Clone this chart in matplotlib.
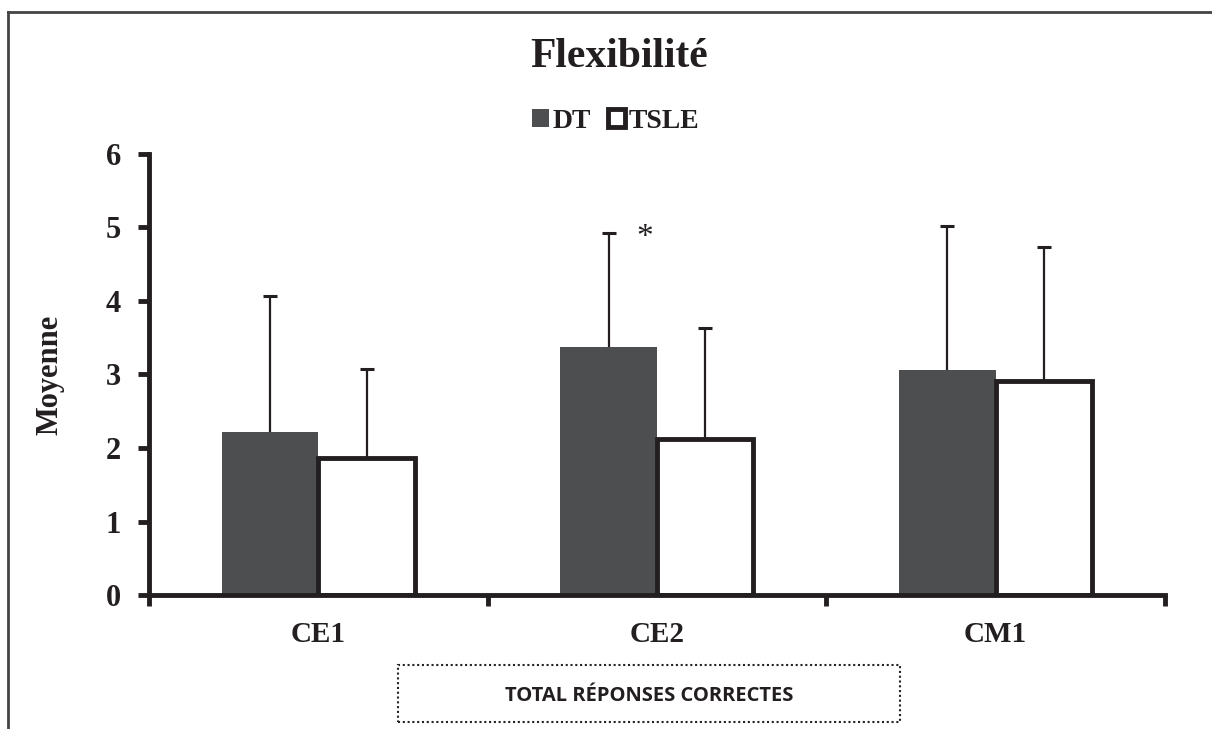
import matplotlib
matplotlib.use("Agg")
import matplotlib.pyplot as plt
import numpy as np
from matplotlib.lines import Line2D
from matplotlib.patches import Rectangle

categories = ["CE1", "CE2", "CM1"]
dt_mean = [2.22, 3.37, 3.06]
dt_sd = [1.85, 1.55, 1.96]
tsle_mean = [1.87, 2.12, 2.91]
tsle_sd = [1.21, 1.51, 1.82]
y_ticks = [0, 1, 2, 3, 4, 5, 6]

DARK = "#4d4e50"
INK = "#231f20"
SERIF = "Liberation Serif"

fig = plt.figure(figsize=(12.12, 7.29), dpi=100)
ax = fig.add_axes([0.1229, 0.1838, 0.8383, 0.605])

x = np.arange(len(categories))
w = 0.285
# error bars sit behind the bars, so only the upper half shows
ax.errorbar(x - w / 2, dt_mean, yerr=dt_sd, fmt="none", ecolor=INK,
            elinewidth=1.6, capsize=4.7, capthick=2.2, zorder=1)
ax.errorbar(x + w / 2, tsle_mean, yerr=tsle_sd, fmt="none", ecolor=INK,
            elinewidth=1.6, capsize=4.7, capthick=2.2, zorder=1)
ax.bar(x - w / 2, dt_mean, w, color=DARK, edgecolor="none", label="DT", zorder=2)
ax.bar(x + w / 2, tsle_mean, w, facecolor="white", edgecolor=INK, linewidth=3.5,
       label="TSLE", zorder=2)

ax.set_xlim(-0.5, 2.5)
ax.set_ylim(0, 6)
ax.set_yticks(y_ticks)
ax.set_xticks([-0.5, 0.5, 1.5, 2.5])
ax.set_xticklabels([])
ax.set_xticks(x, minor=True)
ax.set_xticklabels(categories, minor=True)
ax.tick_params(axis="x", which="major", direction="out", length=8, width=3.5, color=INK)
ax.tick_params(axis="x", which="minor", length=0, pad=19, labelsize=21)
ax.tick_params(axis="y", direction="out", length=8, width=3.5, color=INK, pad=12, labelsize=22)
for lab in ax.get_xticklabels(minor=True) + ax.get_yticklabels():
    lab.set_fontfamily(SERIF)
    lab.set_fontweight("bold")
    lab.set_color(INK)

for s in ["top", "right"]:
    ax.spines[s].set_visible(False)
for s in ["left", "bottom"]:
    ax.spines[s].set_linewidth(3.5)
    ax.spines[s].set_color(INK)

ax.set_ylabel("Moyenne", fontfamily=SERIF, fontweight="bold", fontsize=22, color=INK, labelpad=30)

# significance mark
ax.text(1 - w / 2 + 0.105, 4.86, "*", fontfamily=SERIF, fontsize=24, color=INK,
        ha="center", va="center")

fig.text(0.511, 0.922, "Flexibilité", fontfamily=SERIF, fontweight="bold", fontsize=30,
         color=INK, ha="center", va="center")

leg = fig.legend(loc="center", bbox_to_anchor=(0.508, 0.834), ncol=2, frameon=False,
                 handlelength=0.6, handleheight=0.6, handletextpad=0.15, columnspacing=0.6,
                 prop={"family": SERIF, "weight": "bold", "size": 20})
for t in leg.get_texts():
    t.set_color(INK)

# dotted box with axis caption
fig.patches.append(Rectangle((398 / 1212, 1 - 722 / 729), 502 / 1212, 57 / 729,
                             transform=fig.transFigure, fill=False, edgecolor="#222222",
                             linestyle=(0, (1, 1.3)), linewidth=1.5))
fig.text(649 / 1212, 1 - 696 / 729, "TOTAL RÉPONSES CORRECTES", fontfamily="Open Sans",
         fontweight="bold", fontsize=14.5, color=INK, ha="center", va="center")

# page frame (top and left only)
fig.lines.append(Line2D([8 / 1212, 1], [1 - 12 / 729, 1 - 12 / 729], transform=fig.transFigure,
                        color="#444444", linewidth=2))
fig.lines.append(Line2D([8 / 1212, 8 / 1212], [0, 1 - 12 / 729], transform=fig.transFigure,
                        color="#444444", linewidth=2))

fig.savefig("out.png", dpi=100)
